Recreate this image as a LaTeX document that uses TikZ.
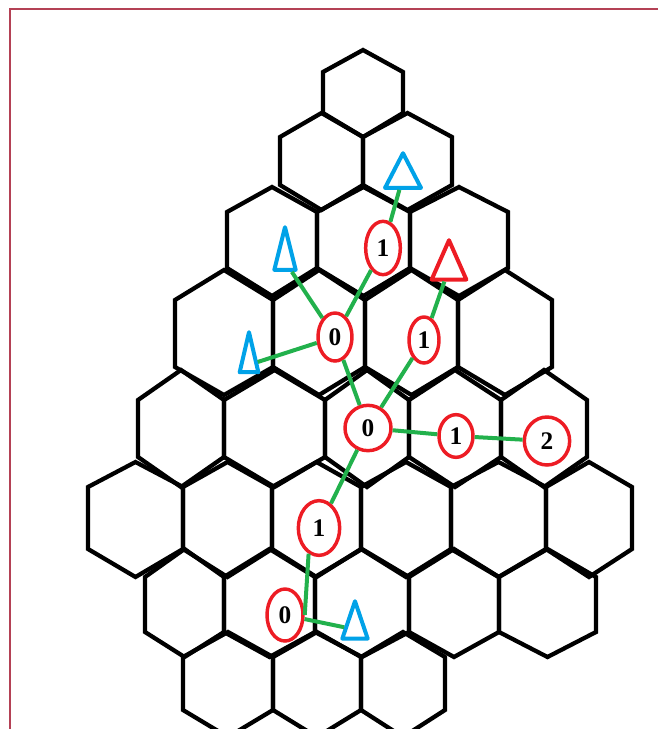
\documentclass[tikz,border=0pt]{standalone}
\usepackage{fontspec}
\setmainfont{Liberation Serif}
\usetikzlibrary{shapes.geometric}

\definecolor{paintred}{RGB}{237,28,36}
\definecolor{paintblue}{RGB}{0,162,232}
\definecolor{paintgreen}{RGB}{34,177,76}
\definecolor{framered}{RGB}{180,65,85}

\begin{document}
\begin{tikzpicture}[
  x=0.75pt,y=-0.75pt,
  font=\fontsize{19}{19}\selectfont\bfseries,
  hex/.style={draw,line width=3.2pt},
  num/.style={ellipse,draw=paintred,line width=2.6pt,inner sep=0pt},
  tri/.style={isosceles triangle,isosceles triangle stretches,rotate=90,
              line width=3pt,line join=round,inner sep=0pt,anchor=apex},
  leaf/.style={tri,draw=paintblue},
  goal/.style={tri,draw=paintred},
  link/.style={paintgreen,line width=3pt},
  frame/.style={framered,line width=1.5pt}
]
\useasboundingbox (0,0) rectangle (658,729);
\draw[frame] (10,729) -- (10,9) -- (658,9);

% hex rows: top vertex / side top / side bottom / bottom vertex / cell edges
\foreach \yt/\ya/\yb/\yv/\xs in {
    50/72/113/137/{323,403},
    113/137/185/210/{280,363,452},
    187/212/268/296/{227,317,410,508},
    270/300/367/395/{175,273,365,458,552},
    370/400/457/487/{138,224,325,409,501,587},
    462/487/549/577/{88,183,272,361,451,546,632},
    549/577/632/657/{145,224,315,409,499,596},
    632/657/710/737/{183,273,361,445}}
  \foreach \x [remember=\x as \xp (initially 0)] in \xs {
    \ifnum\xp>0
      \draw[hex] ({(\xp+\x)/2},\yt) -- (\x,\ya) -- (\x,\yb)
        -- ({(\xp+\x)/2},\yv) -- (\xp,\yb) -- (\xp,\ya) -- cycle;
    \fi
  };

% counters
\node[num,minimum width=26pt,minimum height=40pt]   (n1) at (383,248) {1};
\node[num,minimum width=25.5pt,minimum height=36pt] (nA) at (335,337) {0};
\node[num,minimum width=22.5pt,minimum height=34.5pt] (nB) at (424,340) {1};
\node[num,minimum width=34.5pt,minimum height=34pt] (nC) at (368,428) {0};
\node[num,minimum width=25.5pt,minimum height=32pt] (nD) at (456,436) {1};
\node[num,minimum width=34pt,minimum height=36pt]   (nE) at (547,441) {2};
\node[num,minimum width=31pt,minimum height=41pt]   (nF) at (319,528) {1};
\node[num,minimum width=27pt,minimum height=39pt]   (nG) at (285,615) {0};

% triangles (width = base, height = apex to base)
\node[leaf,minimum width=27pt,minimum height=26pt]    (t1) at (403,148) {};
\node[leaf,minimum width=16pt,minimum height=32pt]    (t2) at (285,222) {};
\node[goal,minimum width=26pt,minimum height=29.5pt]  (t3) at (449,235) {};
\node[leaf,minimum width=14pt,minimum height=30pt]    (t4) at (249,327) {};
\node[leaf,minimum width=19pt,minimum height=28pt]    (t5) at (355,596) {};

\foreach \a/\b in {t1/n1, t2/nA, n1/nA, t3/nB, t4/nA, nA/nC, nB/nC,
                   nC/nD, nD/nE, nC/nF, nG/t5}
  \draw[link] (\a) -- (\b);
\draw[link] (nF.-112) -- (nG.east);
\end{tikzpicture}
\end{document}
